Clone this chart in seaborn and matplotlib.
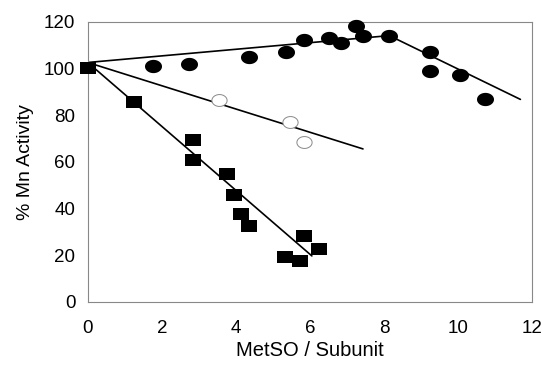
import matplotlib
matplotlib.use("Agg")
import matplotlib.pyplot as plt
import seaborn as sns
import numpy as np
from matplotlib.path import Path

sns.set_theme(style="white")
plt.rcParams['font.family'] = ['Liberation Sans', 'DejaVu Sans']

# Filled circles
circ_x = [1.76, 2.73, 4.35, 5.35, 5.84, 6.51, 6.84, 7.24, 7.43, 8.14, 9.24, 9.24, 10.05, 10.73]
circ_y = [101, 102, 105, 107, 112, 113, 111, 118, 114, 114, 107, 99, 97, 87]
# Open circles
open_x = [3.54, 5.46, 5.84]
open_y = [86.4, 77, 68.4]
# Filled squares
sq_x = [0.0, 1.24, 2.84, 2.84, 3.76, 3.95, 4.14, 4.35, 5.32, 5.73, 5.84, 6.24]
sq_y = [100, 85.6, 69.3, 60.7, 54.8, 45.8, 37.6, 32.5, 19.3, 17.5, 28.2, 22.7]

# Fitted line segments
circ_line_x = [0.0, 8.14, 11.68]
circ_line_y = [102.5, 114, 86.7]
open_line_x = [0.0, 7.43]
open_line_y = [102.5, 65.5]
sq_line_x = [0.0, 6.05]
sq_line_y = [102.5, 19.7]

x_ticks = [0, 2, 4, 6, 8, 10, 12]
y_ticks = [0, 20, 40, 60, 80, 100, 120]

# Slightly wide markers (as in the scanned original)
t = np.linspace(0, 2 * np.pi, 64)
ellipse = Path(np.column_stack([np.cos(t), 0.78 * np.sin(t)]), closed=True)
rect = Path([(-1, -0.8), (1, -0.8), (1, 0.8), (-1, 0.8), (-1, -0.8)], closed=True)

fig = plt.figure(figsize=(5.42, 3.66), dpi=100)
ax = fig.add_axes([0.162, 0.175, 0.82, 0.766])

for lx, ly in [(circ_line_x, circ_line_y), (open_line_x, open_line_y), (sq_line_x, sq_line_y)]:
    sns.lineplot(x=lx, y=ly, ax=ax, color='black', linewidth=1.2, sort=False,
                 estimator=None)

sns.scatterplot(x=circ_x, y=circ_y, ax=ax, marker=ellipse, s=150, color='black',
                edgecolor='black', linewidth=0, zorder=3)
sns.scatterplot(x=open_x, y=open_y, ax=ax, marker=ellipse, s=120, facecolor='white',
                edgecolor='#888888', linewidth=0.7, zorder=3)
sns.scatterplot(x=sq_x, y=sq_y, ax=ax, marker=rect, s=125, color='black',
                edgecolor='black', linewidth=0, zorder=3)

ax.set_xlim(0, 12)
ax.set_ylim(0, 120)
ax.set_xticks(x_ticks)
ax.set_yticks(y_ticks)
ax.set_xticklabels([str(v) for v in x_ticks])
ax.set_yticklabels([str(v) for v in y_ticks])
ax.tick_params(axis='x', length=0, pad=13, labelsize=13.5, colors='black')
ax.tick_params(axis='y', length=0, pad=9, labelsize=13.5, colors='black')
ax.set_xlabel('MetSO / Subunit', fontsize=14.5, labelpad=3, color='black')
ax.set_ylabel('% Mn Activity', fontsize=14, labelpad=7, color='black')
ax.grid(False)
for sp in ax.spines.values():
    sp.set_visible(True)
    sp.set_color('#888888')
    sp.set_linewidth(0.8)
for s in ax.collections:
    s.set_clip_on(False)

fig.savefig('out.png', dpi=100, facecolor='white')
